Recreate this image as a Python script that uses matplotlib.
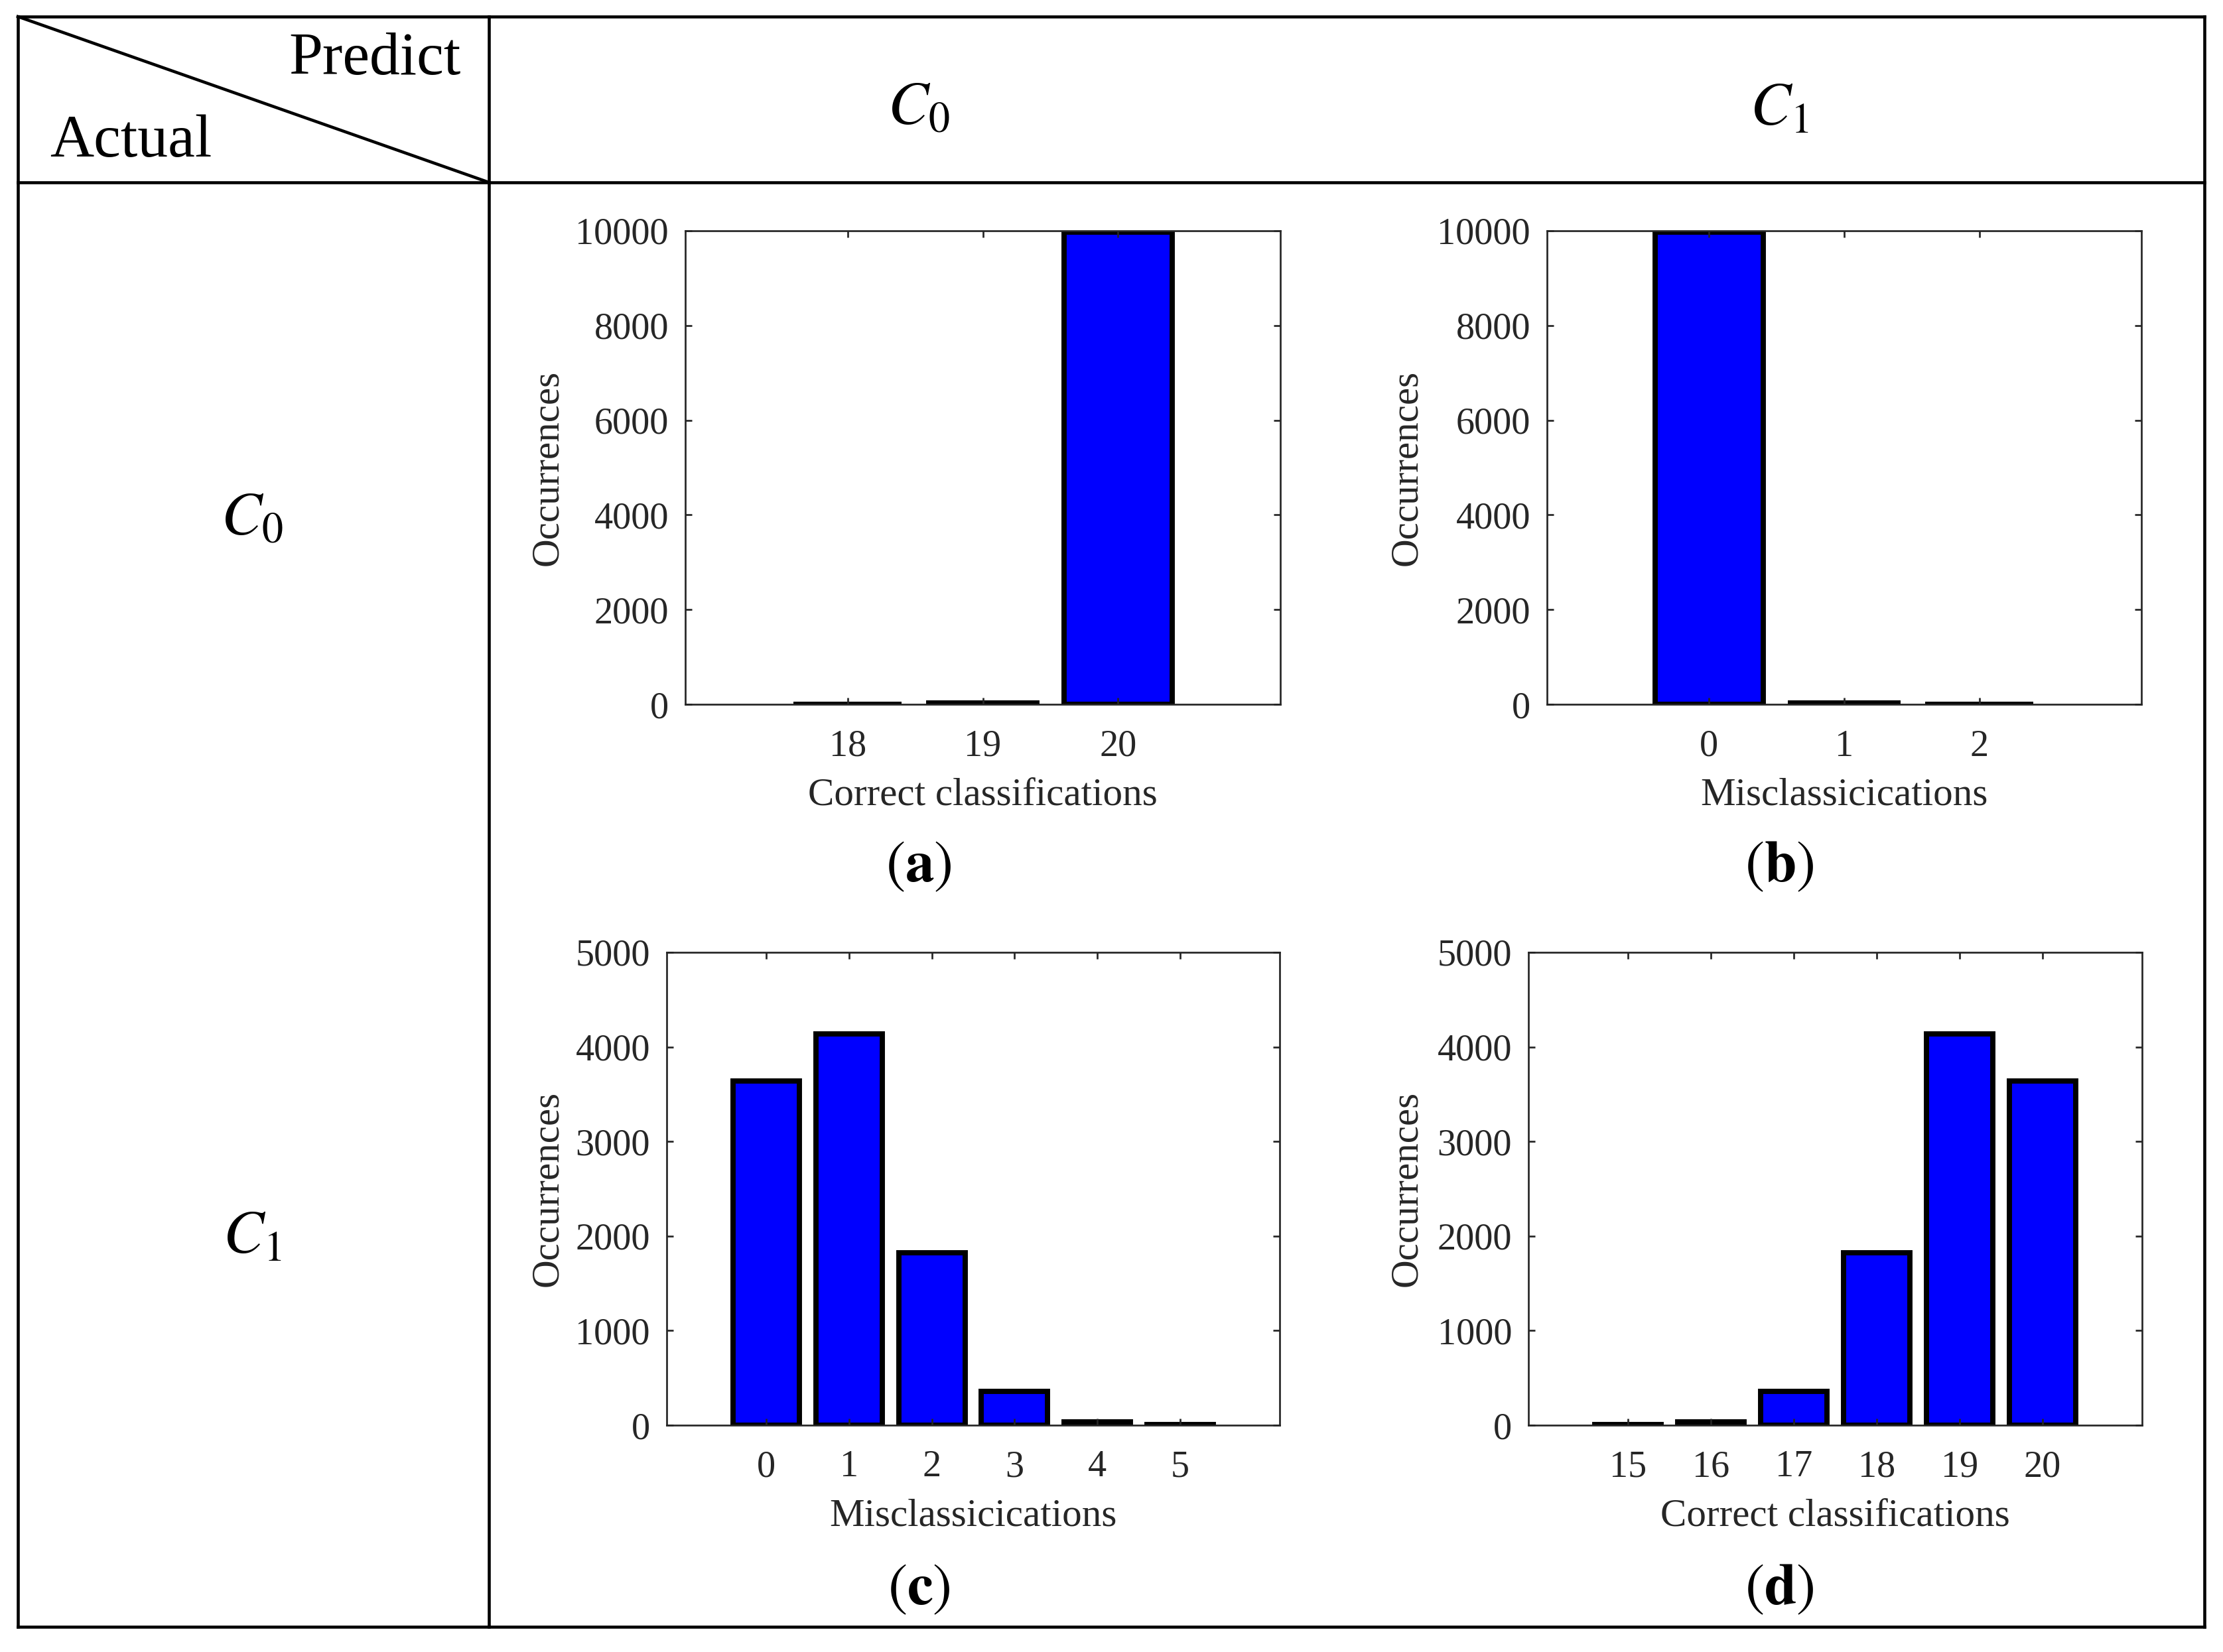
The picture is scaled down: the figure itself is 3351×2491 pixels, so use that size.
import matplotlib.pyplot as plt
import matplotlib.transforms as mtransforms
from matplotlib.lines import Line2D

# histogram counts (10000 runs per case)
a_bins = [18, 19, 20]
a_counts = [3, 25, 9972]

b_bins = [0, 1, 2]
b_counts = [9972, 25, 3]

c_bins = [0, 1, 2, 3, 4, 5]
c_counts = [3640, 4135, 1825, 360, 36, 4]

d_bins = [15, 16, 17, 18, 19, 20]
d_counts = [4, 36, 360, 1825, 4135, 3640]

x_labels = ["Correct classifications", "Misclassicications",
            "Misclassicications", "Correct classifications"]
tags = ["a", "b", "c", "d"]
class_names = [r"$C_0$", r"$C_1$"]

plt.rcParams['font.family'] = ['Liberation Serif', 'DejaVu Serif']
plt.rcParams['mathtext.fontset'] = 'stix'

W, H = 3351, 2491
fig = plt.figure(figsize=(W / 300, H / 300), dpi=300)

# helpers: pixel positions of the full-size picture -> figure fraction
def fx(px):
    return px / W

def fy(py):
    return 1 - py / H

# table grid
line_kw = dict(color='black', lw=1.1, transform=fig.transFigure)
L, R, T, B = fx(27), fx(3323), fy(25), fy(2453)
xd, yh = fx(737), fy(275)
for xs, ys in [([L, R], [T, T]), ([L, R], [B, B]), ([L, L], [T, B]),
               ([R, R], [T, B]), ([xd, xd], [T, B]), ([L, R], [yh, yh]),
               ([L, xd], [T, yh])]:
    fig.add_artist(Line2D(xs, ys, **line_kw))

fig.text(fx(695), fy(90), "Predict", ha='right', va='center', fontsize=22)
fig.text(fx(75), fy(214), "Actual", ha='left', va='center', fontsize=22)

col_x = [fx(1385), fx(2682)]
row_y = [fy(784), fy(1866)]
for i, name in enumerate(class_names):
    fig.text(col_x[i], fy(165), name, ha='center', va='center', fontsize=22)
    fig.text(fx(380), row_y[i], name, ha='center', va='center', fontsize=22)

panels = [
    (a_bins, a_counts, (16.8, 21.2), 10000, 2000),
    (b_bins, b_counts, (-1.2, 3.2), 10000, 2000),
    (c_bins, c_counts, (-1.2, 6.2), 5000, 1000),
    (d_bins, d_counts, (13.8, 21.2), 5000, 1000),
]
# axes boxes in full-size pixels: left, right, top, bottom
boxes = [(1033, 1930, 348, 1062), (2332, 3228, 348, 1062),
         (1005, 1929, 1436, 2149), (2304, 3229, 1436, 2149)]
ylabel_x = [fx(853), fx(2148)]
tag_y = [fy(1308), fy(2398)]

grey = '#262626'
for k, (bins, counts, xlim, ymax, ystep) in enumerate(panels):
    r, c = divmod(k, 2)
    x0, x1, y0, y1 = boxes[k]
    ax = fig.add_axes([fx(x0), fy(y1), fx(x1) - fx(x0), fy(y0) - fy(y1)])
    ax.bar(bins, counts, width=0.8, color='#0000ff', edgecolor='black',
           linewidth=1.9)
    ax.set_xlim(*xlim)
    ax.set_ylim(0, ymax)
    ax.set_xticks(bins)
    ax.set_yticks(range(0, ymax + 1, ystep))
    ax.tick_params(direction='in', top=True, right=True, length=2.4,
                   width=0.65, colors=grey, labelsize=13.5)
    ax.tick_params(axis='x', pad=9)
    ax.tick_params(axis='y', pad=6)
    for s in ax.spines.values():
        s.set_linewidth(0.65)
        s.set_color(grey)
    ax.set_xlabel(x_labels[k], fontsize=14.2, color=grey, labelpad=5)
    ax.set_ylabel("Occurrences", fontsize=14.2, color=grey)
    tr = mtransforms.blended_transform_factory(fig.transFigure, ax.transAxes)
    ax.yaxis.set_label_coords(ylabel_x[c], 0.5, transform=tr)
    fig.text(col_x[c], tag_y[r], r"$(\mathbf{%s})$" % tags[k],
             ha='center', va='center', fontsize=21)

fig.savefig("out.png", dpi=300)
